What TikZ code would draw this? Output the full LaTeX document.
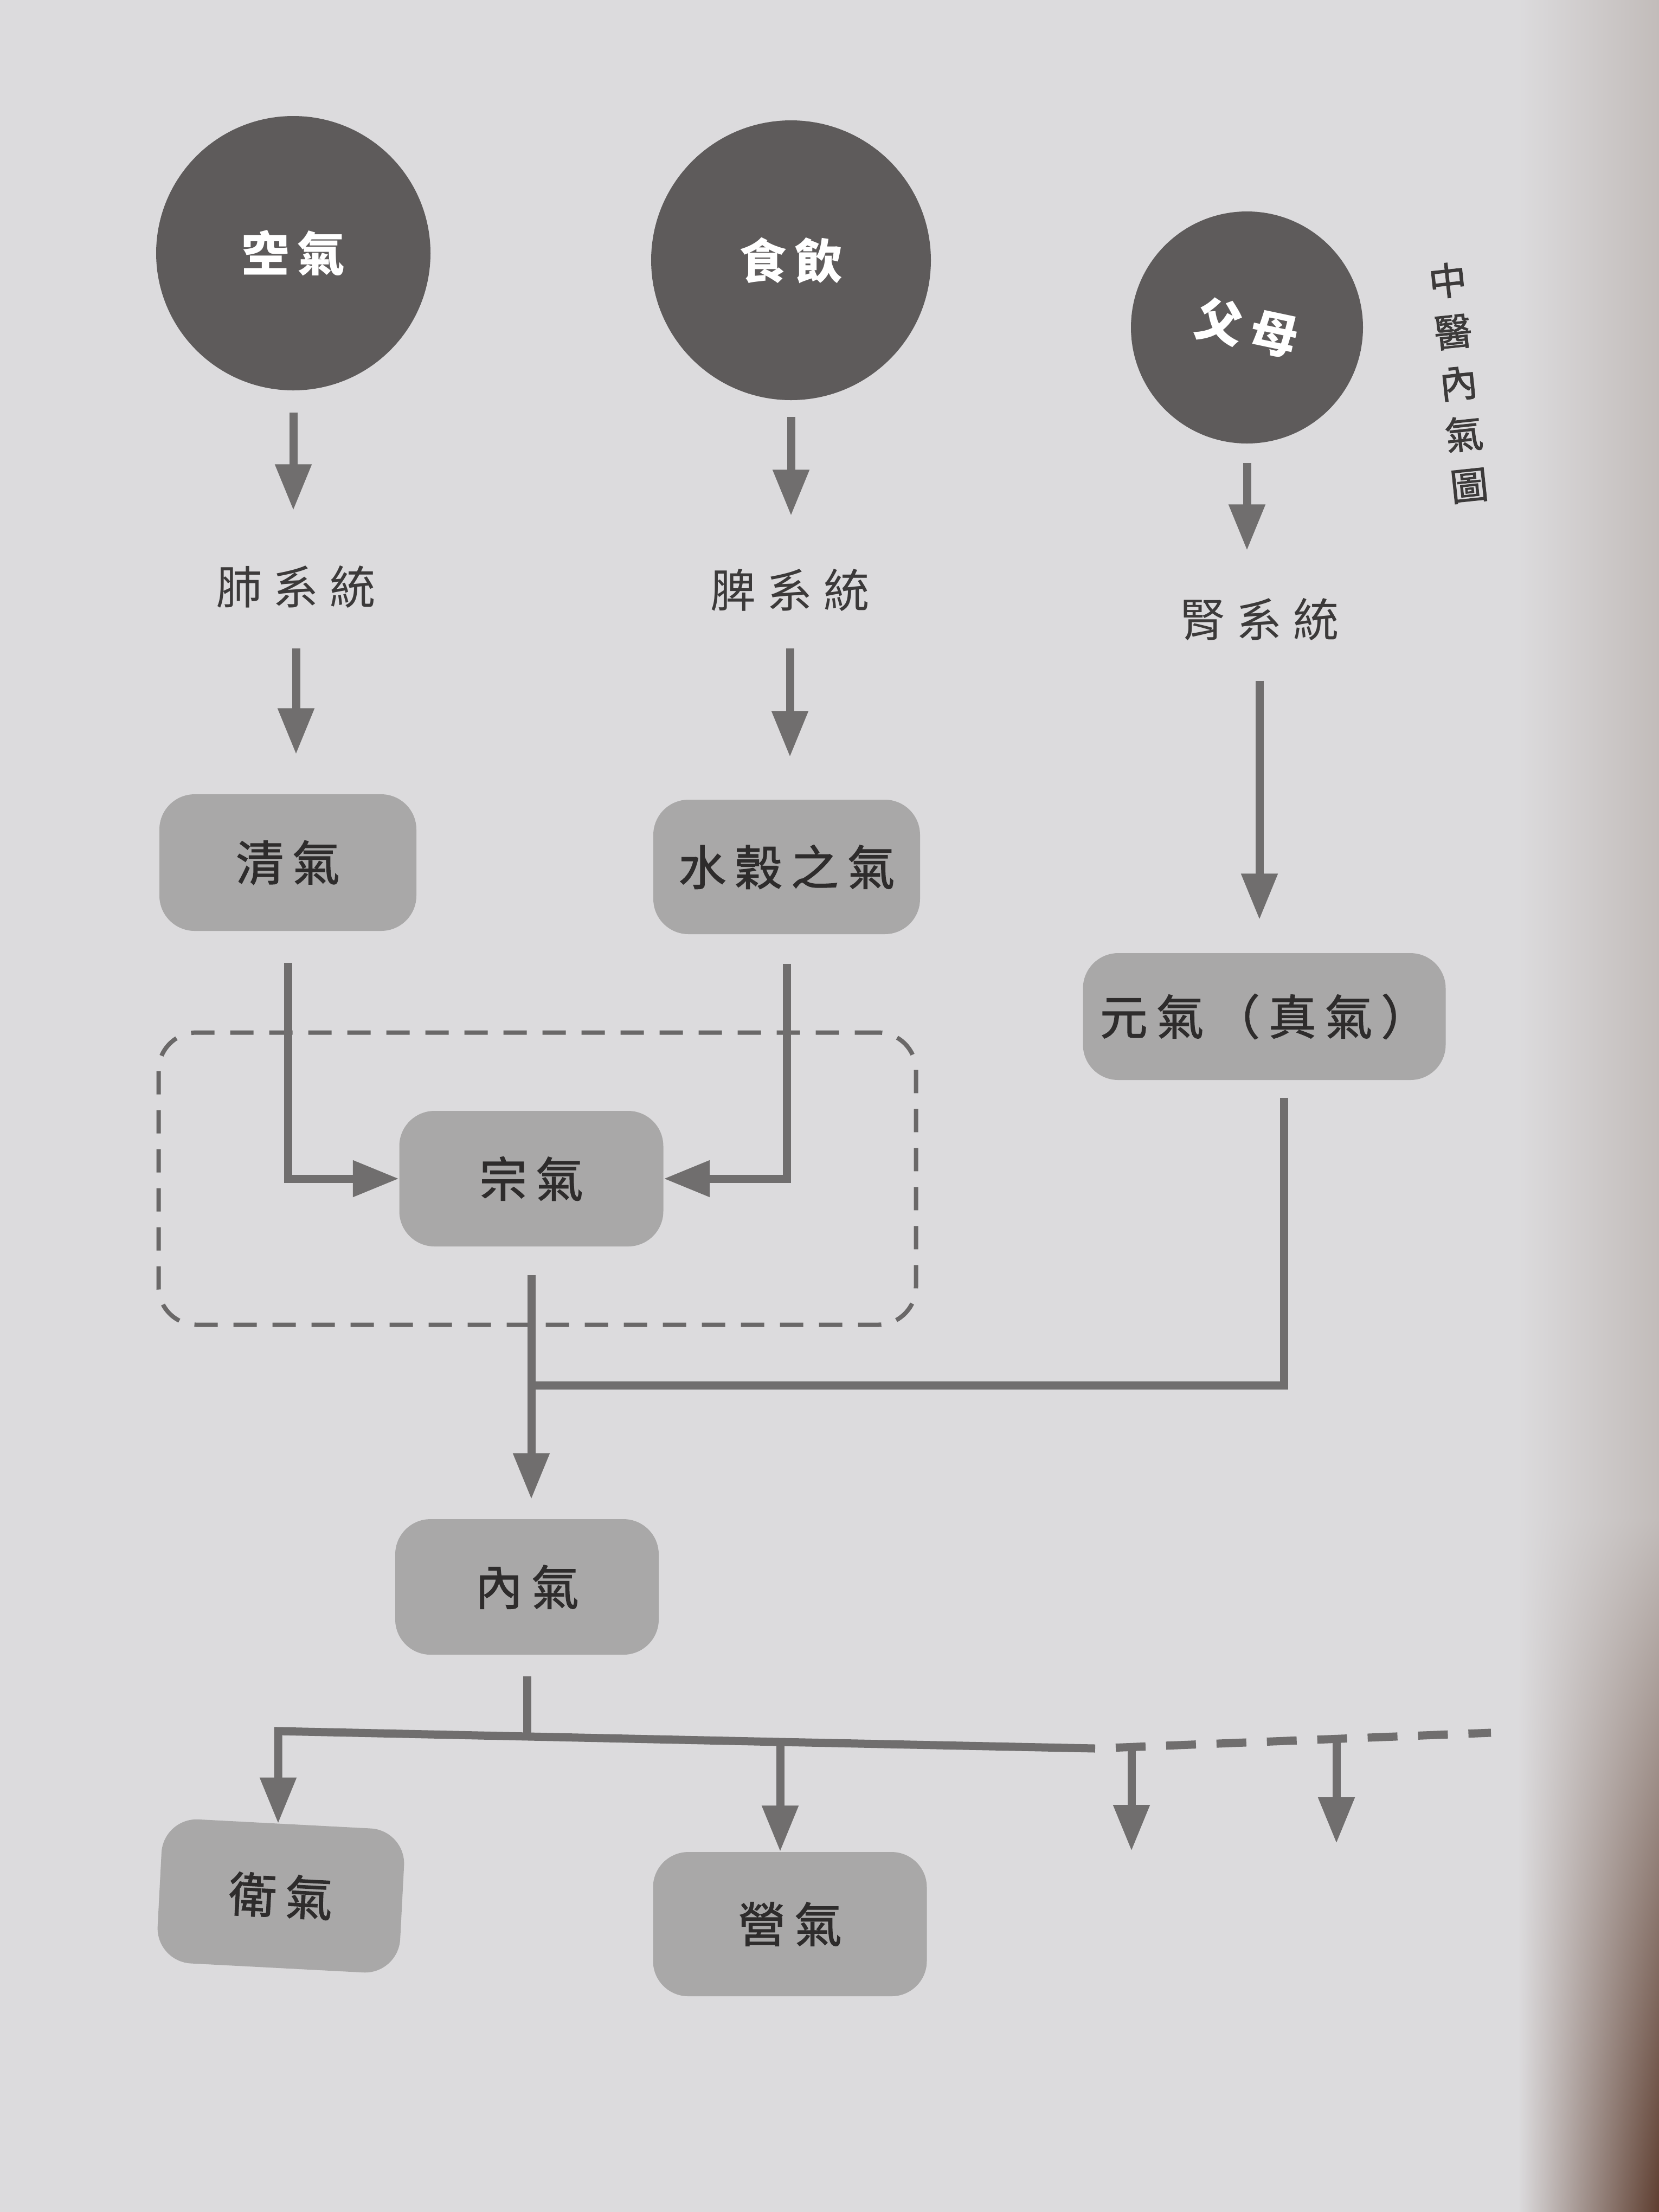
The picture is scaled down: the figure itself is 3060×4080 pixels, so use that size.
\documentclass[tikz,border=0pt]{standalone}
\usepackage{fontspec}
\newfontfamily\cjklab{Noto Sans CJK TC}[LetterSpace=24]
\newfontfamily\cjkbox{Noto Sans CJK TC}[LetterSpace=18, FakeBold=1.5]
\newfontfamily\cjkcirc{Noto Sans CJK TC}[LetterSpace=18]
\newfontfamily\cjktitle{Noto Sans CJK TC}[FakeBold=1.5]
\usetikzlibrary{arrows.meta,shadings}
\definecolor{bgM}{HTML}{DCDBDD}
\definecolor{edgeG}{HTML}{C2BCBA}
\definecolor{brownD}{HTML}{5E3E30}
\definecolor{circfill}{HTML}{5E5B5B}
\definecolor{boxfill}{HTML}{A9A8A8}
\definecolor{linecol}{HTML}{706E6E}
\definecolor{txtdark}{HTML}{2E2C2C}
\definecolor{labtxt}{HTML}{3C3A3A}
\definecolor{dashcol}{HTML}{6A6868}
\begin{document}
\begin{tikzpicture}[x=0.1mm,y=-0.1mm,
 circ/.style={circle, fill=circfill, inner sep=0pt, minimum size=#1, text=white, font=\cjkcirc\bfseries\fontsize{25}{25}\selectfont},
 qbox/.style 2 args={rectangle, rounded corners=6.5mm, fill=boxfill, minimum width=#1, minimum height=#2, inner sep=0pt, text=txtdark, font=\cjkbox\fontsize{25}{25}\selectfont},
 lab/.style={inner sep=0pt, minimum height=8mm, text=labtxt, font=\cjklab\fontsize{24}{24}\selectfont},
 conn/.style={draw=linecol, line width=1.5mm, -{Triangle[length=8.5mm,width=6.4mm]}},
 plainconn/.style={draw=linecol, line width=1.5mm},
 dashconn/.style={draw=linecol, line width=1.5mm, dash pattern=on 5.5mm off 3.8mm, dash phase=5.5mm},
 grpframe/.style={draw=dashcol, line width=0.8mm, dash pattern=on 4.3mm off 2.9mm, rounded corners=7mm, minimum width=139.7mm, minimum height=53.9mm, inner sep=0pt},
 ttl/.style={inner sep=0pt, text=labtxt, align=center, font=\cjktitle\fontsize{20}{27}\selectfont}
]
\useasboundingbox (0,0) rectangle (3060,4080);
% page background (photo tones)
\fill[bgM] (0,0) rectangle (2801,4080);
\shade[left color=bgM, right color=edgeG] (2800,0) rectangle (3060,2800);
\shade[upper left=bgM, upper right=edgeG, lower left=bgM, lower right=brownD] (2800,2799) rectangle (3060,4080);

% title (vertical)
\node[ttl, rotate=6] (title) at (2690,706) {中\\醫\\內\\氣\\圖};

% sources
\node[circ=50.6mm] (air) at (541,467) {空氣};
\node[circ=51.6mm] (food) at (1459,480) {食飲};
\node[circ=42.8mm] (parents) at (2300,604) {\rotatebox{-12}{父母}};

% systems
\node[lab] (lung) at (546,1082) {肺系統};
\node[lab] (spleen) at (1457,1088) {脾系統};
\node[lab] (kidney) at (2323,1142) {腎系統};

% group frame
\node[grpframe] (grp) at (991,2174) {};

% boxes
\node[qbox={47.4mm}{25.2mm}] (qing) at (531,1591) {清氣};
\node[qbox={49.2mm}{24.8mm}] (shuigu) at (1451,1599) {水穀之氣};
\node[qbox={66.9mm}{23.4mm}] (yuan) at (2332,1875) {元氣（真氣）};
\node[qbox={48.7mm}{25mm}] (zong) at (980,2174) {宗氣};
\node[qbox={48.6mm}{25mm}] (nei) at (972,2927) {內氣};
\node[qbox={44.8mm}{26.6mm}, rotate=-3] (wei) at (518,3497) {衛氣};
\node[qbox={50.5mm}{26.6mm}] (ying) at (1457,3549) {營氣};

% top chains
\draw[conn, shorten <=4mm, shorten >=10mm] (air.south) -- (air.south |- lung.north);
\draw[conn, shorten <=7.3mm, shorten >=7.3mm] (lung.south) -- (lung.south |- qing.north);
\draw[conn, shorten <=3mm, shorten >=9.6mm] (food.south) -- (food.south |- spleen.north);
\draw[conn, shorten <=6.7mm, shorten >=7.8mm] (spleen.south) -- (spleen.south |- shuigu.north);
\draw[conn, shorten <=3.5mm, shorten >=8.6mm] (parents.south) -- (parents.south |- kidney.north);
\draw[conn, shorten <=7.3mm, shorten >=6.1mm] (kidney.south) -- (kidney.south |- yuan.north);

% into zong qi
\draw[conn, shorten <=5.8mm] (qing.south) |- (zong.west);
\draw[conn, shorten <=5.4mm] (shuigu.south) |- (zong.east);

% zong + yuan -> nei
\coordinate (join) at (980,2555);
\draw[conn, shorten <=5.2mm, shorten >=3.6mm] (zong.south) -- (zong.south |- nei.north);
\draw[plainconn, shorten <=3.2mm] ([xshift=3.6mm]yuan.south) |- (join);

% nei -> branches
\coordinate (nj) at (968,3203);
\coordinate (b1) at (513,3193);
\coordinate (b2) at (1439,3213);
\coordinate (bs) at (2020,3225);
\coordinate (b3) at (2087,3222);
\coordinate (b4) at (2465,3207);
\coordinate (bend) at (2750,3196);
\coordinate (e3) at (2087,3414);
\coordinate (e4) at (2465,3400);
\draw[plainconn, shorten <=3.9mm] (nei.south) -- (nei.south |- nj);
\draw[conn] (bs) -- (b2) -- (b1) -- (b1 |- wei.north);
\draw[conn] (b2) -- (b2 |- ying.north);
\draw[dashconn] (bs) -- (bend);
\draw[conn] (b3) -- (e3);
\draw[conn] (b4) -- (e4);
\end{tikzpicture}
\end{document}
